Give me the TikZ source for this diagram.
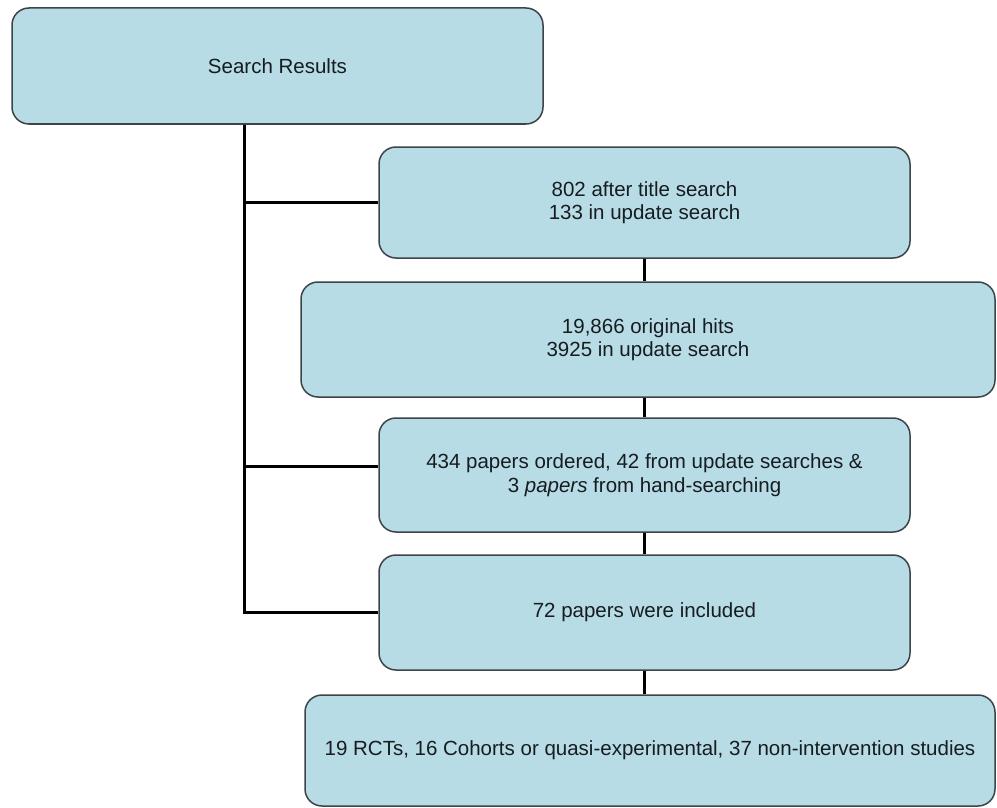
\documentclass[tikz,border=0pt]{standalone}
\usepackage{fontspec}
\setmainfont{Liberation Sans}
\begin{document}
\begin{tikzpicture}[x=1pt,y=-1pt,
  flowbox/.style={draw=boxline, line width=1.5pt, fill=boxfill,
    rounded corners=17pt, align=center, text=textcol,
    inner sep=0pt,
    font=\fontsize{20.5}{23.5}\selectfont},
  link/.style={draw=black, line width=3pt}]
  \definecolor{boxfill}{HTML}{B8DCE6}
  \definecolor{boxline}{HTML}{3C4448}
  \definecolor{textcol}{HTML}{161C20}
  \useasboundingbox (0,0) rectangle (997,808);

  % boxes
  \node[flowbox, minimum width=531pt, minimum height=116pt] (b1) at (277.5,66) {Search Results};
  \node[flowbox, minimum width=531pt, minimum height=111pt] (b2) at (644.5,202.5)
    {802 after title search\\133 in update search};
  \node[flowbox, minimum width=694pt, minimum height=115pt] (b3) at (648,339.5)
    {19,866 original hits\\3925 in update search};
  \node[flowbox, minimum width=531pt, minimum height=114pt] (b4) at (644.5,475)
    {434 papers ordered, 42 from update searches \&\\3 \textit{papers} from hand-searching};
  \node[flowbox, minimum width=531pt, minimum height=115pt] (b5) at (644.5,612.5)
    {72 papers were included};
  \node[flowbox, minimum width=690pt, minimum height=111pt] (b6) at (650,750.5)
    {19 RCTs, 16 Cohorts or quasi-experimental, 37 non-intervention studies};

  % left trunk with branches
  \coordinate (tx) at (244,0);
  \coordinate (b4in) at ([yshift=9pt]b4.west);
  \draw[link] (b1.south -| tx) -- (b5.west -| tx) -- (b5.west);
  \draw[link] (b2.west -| tx) -- (b2.west);
  \draw[link] (b4in -| tx) -- (b4in);

  % vertical links between stacked boxes
  \draw[link] (b2.south) -- (b2.south |- b3.north);
  \draw[link] (b4.north |- b3.south) -- (b4.north);
  \draw[link] (b4.south) -- (b5.north);
  \draw[link] (b5.south) -- (b5.south |- b6.north);
\end{tikzpicture}
\end{document}
